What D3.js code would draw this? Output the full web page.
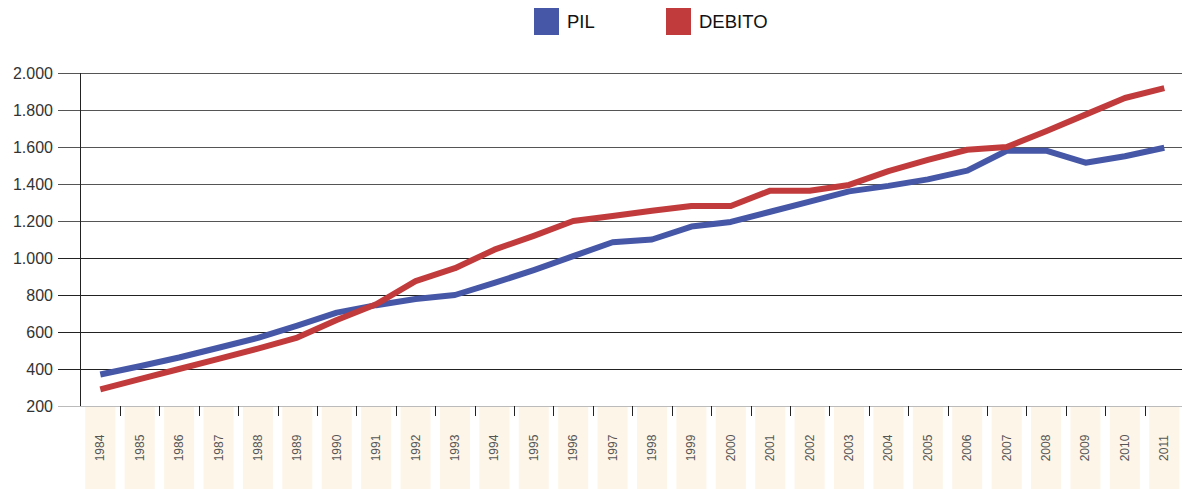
<!DOCTYPE html>
<html>
<head>
<meta charset="utf-8">
<script src="https://cdn.jsdelivr.net/npm/d3@7"></script>
<style>
  body { margin: 0; background: #fff; }
  svg text { font-family: "Liberation Sans", Arial, sans-serif; }
</style>
</head>
<body>
<svg width="1182" height="489"></svg>
<script>
var years = [1984, 1985, 1986, 1987, 1988, 1989, 1990, 1991, 1992, 1993,
             1994, 1995, 1996, 1997, 1998, 1999, 2000, 2001, 2002, 2003,
             2004, 2005, 2006, 2007, 2008, 2009, 2010, 2011];
var pil = [370, 415, 462, 515, 568, 635, 705, 745, 778, 800,
           865, 935, 1010, 1085, 1100, 1170, 1195, 1250, 1305, 1360,
           1390, 1425, 1472, 1580, 1580, 1515, 1550, 1596];
var debito = [290, 345, 400, 455, 510, 570, 665, 750, 875, 945,
              1045, 1120, 1200, 1227, 1255, 1281, 1281, 1364, 1364, 1395,
              1470, 1530, 1585, 1600, 1685, 1775, 1865, 1918];
var yTicks = [200, 400, 600, 800, 1000, 1200, 1400, 1600, 1800, 2000];
var seriesNames = ["PIL", "DEBITO"];
var colors = ["#4657a7", "#c23b3c"];

var svg = d3.select("svg");

var x = d3.scaleBand()
   .domain(years)
   .range([80.6, 1184])
   .paddingInner(0)
   .paddingOuter(0);

var y = d3.scaleLinear()
   .domain([200, 2000])
   .range([406, 73]);

// beige label boxes
svg.append("g").selectAll("rect")
   .data(years)
   .enter().append("rect")
   .attr("x", function(d) { return x(d) + x.bandwidth() / 2 - 15; })
   .attr("y", 406)
   .attr("width", 30)
   .attr("height", 83)
   .attr("fill", "#fdf5e8");

// gridlines
svg.append("g").selectAll("line")
   .data(yTicks)
   .enter().append("line")
   .attr("x1", 58)
   .attr("x2", 1182)
   .attr("y1", function(d) { return Math.round(y(d)) + 0.5; })
   .attr("y2", function(d) { return Math.round(y(d)) + 0.5; })
   .attr("stroke", function(d) { return d == 200 ? "#bbb" : (d >= 1200 ? "#555" : "#222"); })
   .attr("stroke-width", 1);

// y axis labels
svg.append("g").selectAll("text")
   .data(yTicks)
   .enter().append("text")
   .attr("x", 53)
   .attr("y", function(d) { return y(d); })
   .attr("dy", "0.36em")
   .attr("text-anchor", "end")
   .attr("font-size", 16)
   .attr("fill", "#333")
   .text(function(d) { return d3.format(",")(d).replace(/,/g, "."); });

// y axis line
svg.append("line")
   .attr("x1", 80.5).attr("x2", 80.5)
   .attr("y1", y(2000)).attr("y2", 406)
   .attr("stroke", "#222");

// category separator ticks
svg.append("g").selectAll("line")
   .data(years.slice(1))
   .enter().append("line")
   .attr("x1", function(d) { return Math.round(x(d)) + 0.5; })
   .attr("x2", function(d) { return Math.round(x(d)) + 0.5; })
   .attr("y1", 406)
   .attr("y2", 416)
   .attr("stroke", "#222");

// year labels
svg.append("g").selectAll("text")
   .data(years)
   .enter().append("text")
   .attr("transform", function(d) {
      return "translate(" + (x(d) + x.bandwidth() / 2 + 4) + ",448) rotate(-90)";
   })
   .attr("text-anchor", "middle")
   .attr("font-size", 12)
   .attr("fill", "#555")
   .text(function(d) { return d; });

// lines
var line = d3.line()
   .x(function(d, i) { return x(years[i]) + x.bandwidth() / 2; })
   .y(function(d) { return y(d); });

[pil, debito].forEach(function(s, k) {
   svg.append("path")
      .datum(s)
      .attr("fill", "none")
      .attr("stroke", colors[k])
      .attr("stroke-width", 6)
      .attr("stroke-linejoin", "round")
      .attr("d", line);
});

// legend
var legendX = [534, 666];
seriesNames.forEach(function(name, k) {
   svg.append("rect")
      .attr("x", legendX[k])
      .attr("y", 8)
      .attr("width", 25)
      .attr("height", 27)
      .attr("fill", colors[k]);
   svg.append("text")
      .attr("x", legendX[k] + 33)
      .attr("y", 28)
      .attr("font-size", 18.5)
      .attr("fill", "#111")
      .text(name);
});
</script>
</body>
</html>
